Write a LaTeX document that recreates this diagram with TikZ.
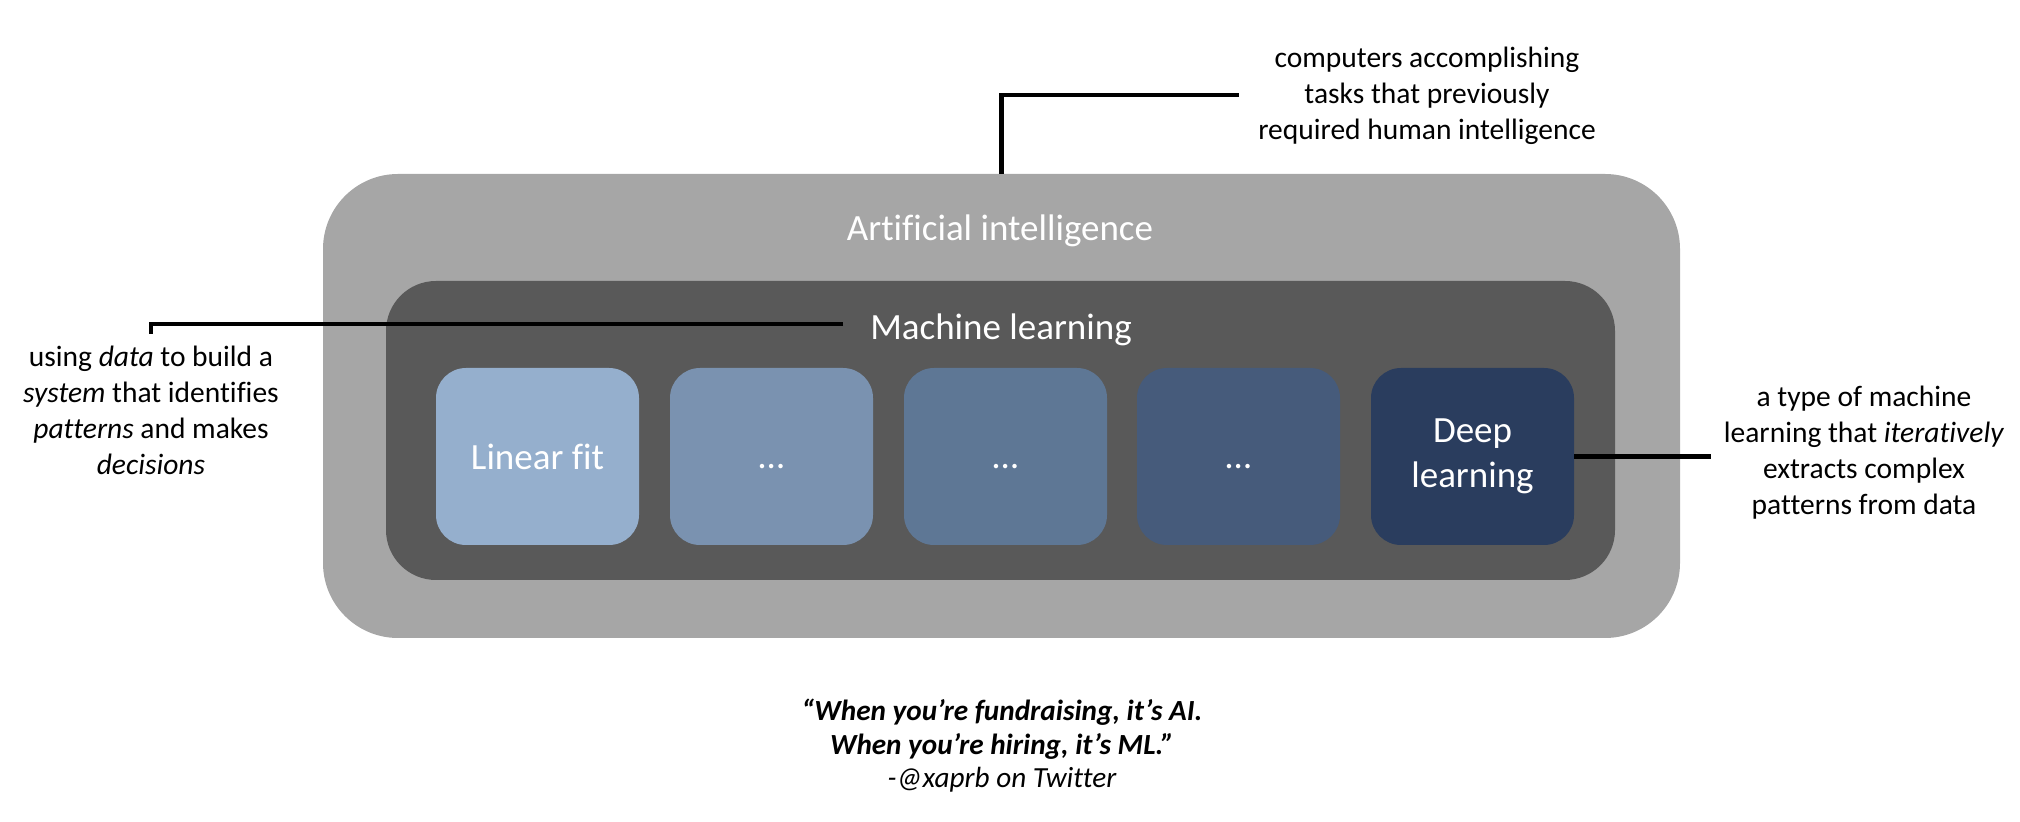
\documentclass[tikz,border=0pt]{standalone}
\usepackage{fontspec}
\setmainfont{Carlito}[Ligatures=NoCommon]
\definecolor{aigray}{HTML}{A6A6A6}
\definecolor{mlgray}{HTML}{595959}
\definecolor{bA}{HTML}{95AFCD}
\definecolor{bB}{HTML}{7A92B0}
\definecolor{bC}{HTML}{5E7795}
\definecolor{bD}{HTML}{465B7B}
\definecolor{bE}{HTML}{2A3D5E}
\begin{document}
\begin{tikzpicture}[x=0.5pt,y=-0.5pt,
  aibox/.style={fill=aigray, rounded corners=37.5pt, minimum width=678.5pt, minimum height=232pt, inner sep=0pt},
  mlbox/.style={fill=mlgray, rounded corners=25pt, minimum width=614.5pt, minimum height=149.5pt, inner sep=0pt},
  algbox/.style={rounded corners=15pt, minimum width=101.5pt, minimum height=88.5pt, inner sep=0pt,
    text=white, align=center, font=\fontsize{18.5}{22.5}\selectfont},
  biglabel/.style={text=white, inner sep=0pt, anchor=base, font=\fontsize{18.5}{22.5}\selectfont},
  note/.style={align=center, inner sep=0pt, anchor=base, font=\fontsize{14.75}{18}\selectfont},
  conn/.style={line width=2.25pt, draw=black}]
\useasboundingbox (0,0) rectangle (2020,822);

\node[aibox] (ai) at (1001.5,406) {};
\node[mlbox] (ml) at (1000.5,430.5) {};

\node[biglabel] (ailabel) at (1000,241) {Artificial intelligence};
\node[biglabel] (mllabel) at (1001,340) {Machine learning};

\node[algbox, fill=bA] (b1) at (537.5,456.5) {Linear fit};
\node[algbox, fill=bB] (b2) at (771.5,456.5) {\vphantom{L}…};
\node[algbox, fill=bC] (b3) at (1005.5,456.5) {\vphantom{L}…};
\node[algbox, fill=bD] (b4) at (1238.5,456.5) {\vphantom{L}…};
\node[algbox, fill=bE] (b5) at (1472.5,456.5) {Deep\\learning};

% multi-line nodes: base anchor = baseline of last line
\node[note] (topnote) at (1427,140) {computers accomplishing\\tasks that previously\\required human intelligence};
\node[note] (leftnote) at (151,475) {using \textit{data} to build a\\\textit{system} that identifies\\\textit{patterns} and makes\\\textit{decisions}};
\node[note] (rightnote) at (1864,515) {a type of machine\\learning that \textit{iteratively}\\extracts complex\\patterns from data};

\node[align=center, inner sep=0pt, anchor=base, font=\fontsize{14.6}{16.8}\selectfont] (quote) at (1002,788)
  {{\bfseries\itshape “When you’re fundraising, it’s AI.}\\{\bfseries\itshape When you’re hiring, it’s ML.”}\\{\itshape -@xaprb on Twitter}};

\coordinate (topend) at (1239,95);
\coordinate (mlstart) at (843,324);
\coordinate (leftend) at (151,334);
\coordinate (rightend) at (1711,456.5);

\draw[conn] (ai.north) |- (topend);
\draw[conn] (mlstart) -| (leftend);
\draw[conn] (b5.east) -- (rightend);
\end{tikzpicture}
\end{document}
